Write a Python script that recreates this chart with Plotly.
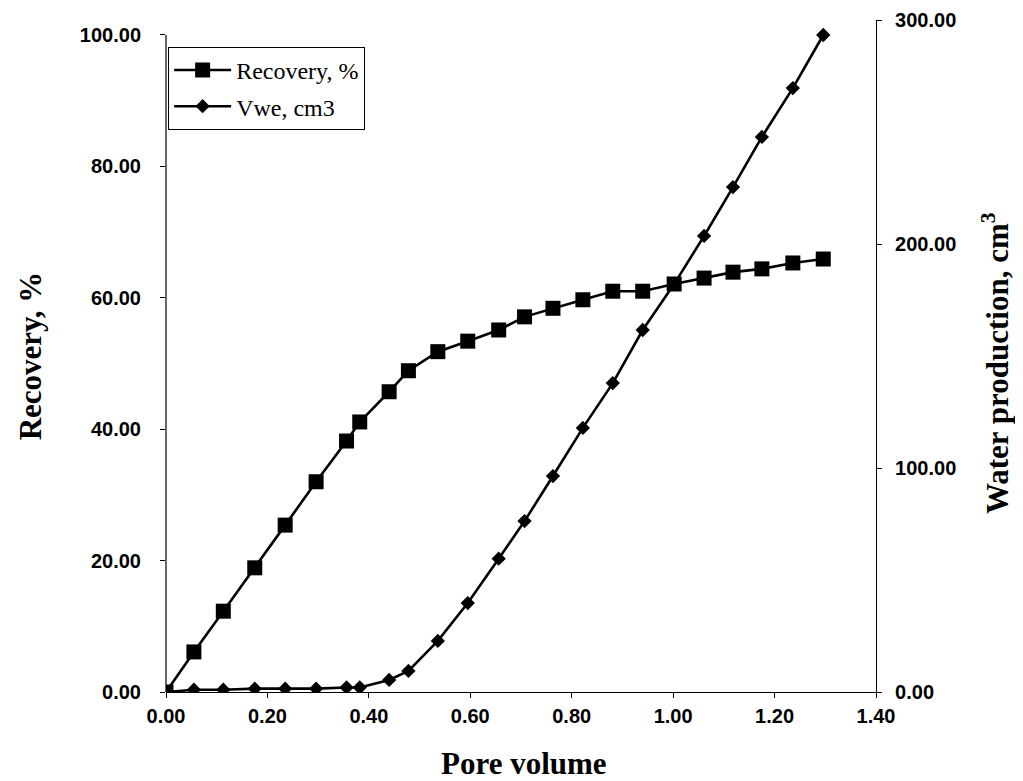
import plotly.graph_objects as go

pore_volume = [0.000, 0.055, 0.113, 0.175, 0.235, 0.296, 0.356, 0.382, 0.440, 0.478,
               0.536, 0.595, 0.656, 0.707, 0.763, 0.822, 0.881, 0.940, 1.002, 1.061,
               1.118, 1.175, 1.236, 1.296]
recovery = [0.0, 6.1, 12.3, 18.9, 25.4, 32.0, 38.2, 41.1, 45.7, 48.9,
            51.8, 53.4, 55.1, 57.1, 58.4, 59.7, 61.0, 61.0, 62.1, 63.0,
            63.9, 64.4, 65.3, 65.9]
vwe = [0.0, 1.0, 1.0, 1.5, 1.5, 1.5, 2.0, 2.0, 5.4, 9.4,
       22.8, 39.7, 59.5, 76.3, 96.4, 117.9, 137.9, 161.6, 182.1, 203.6,
       225.4, 247.8, 269.6, 293.3]

x_ticks = [0.0, 0.2, 0.4, 0.6, 0.8, 1.0, 1.2, 1.4]
left_ticks = [0, 20, 40, 60, 80, 100]
right_ticks = [0, 100, 200, 300]

tick_font = dict(family="Liberation Sans", size=20, color="black", weight="bold")
title_font = dict(family="Liberation Serif", size=31, color="black")

fig = go.Figure()
fig.add_trace(go.Scatter(
    x=pore_volume, y=recovery, name="Recovery, %", yaxis="y2",
    mode="lines+markers", legendgroup="a",
    line=dict(color="black", width=2.6),
    marker=dict(symbol="square", size=15, color="black"),
))
fig.add_trace(go.Scatter(
    x=pore_volume, y=vwe, name="Vwe, cm3", yaxis="y",
    mode="lines+markers", legendgroup="b",
    line=dict(color="black", width=2.6),
    marker=dict(symbol="diamond", size=11, color="black"),
))

fig.update_layout(
    width=1015, height=773,
    margin=dict(l=158, r=147, t=12, b=89),
    paper_bgcolor="white", plot_bgcolor="white",
    showlegend=True,
    legend=dict(
        x=0.003, y=0.96, xanchor="left", yanchor="top",
        bgcolor="white", bordercolor="black", borderwidth=1,
        font=dict(family="Liberation Serif", size=24, color="black"),
        itemwidth=57, tracegroupgap=2,
    ),
    xaxis=dict(
        range=[0, 1.4], tickvals=x_ticks, tickformat=".2f",
        showline=True, linecolor="black", linewidth=1.2,
        ticks="outside", ticklen=5, tickcolor="black",
        showgrid=False, zeroline=False, tickfont=tick_font,
        ticklabelstandoff=1, automargin=False,
    ),
    yaxis=dict(
        side="right", range=[0, 300], tickvals=right_ticks, tickformat=".2f",
        showline=True, linecolor="black", linewidth=1.2,
        ticks="outside", ticklen=5, tickcolor="black",
        showgrid=False, zeroline=False, tickfont=tick_font,
        ticklabelstandoff=9, automargin=False,
    ),
    yaxis2=dict(
        overlaying="y", side="left", range=[0, 102.28], tickvals=left_ticks, tickformat=".2f",
        showline=False,
        ticks="outside", ticklen=5, tickcolor="black",
        showgrid=False, zeroline=False, tickfont=tick_font,
        ticklabelstandoff=15, automargin=False,
        title=dict(text="<b>Recovery, %</b>", font=title_font, standoff=28),
    ),
    annotations=[
        dict(text="<b>Pore volume</b>", xref="paper", yref="paper", x=0.504, y=-0.107,
             xanchor="center", yanchor="middle", showarrow=False, font=title_font),
        dict(text="<b>Water production, cm<sup>3</sup></b>", xref="paper", yref="paper",
             x=1.168, y=0.49, xanchor="center", yanchor="middle", textangle=-90,
             showarrow=False, font=title_font),
    ],
    shapes=[dict(type="line", xref="paper", yref="y2", x0=0, x1=0, y0=0, y1=100,
                 line=dict(color="black", width=1.2))],
)

fig.write_html("out.html")
